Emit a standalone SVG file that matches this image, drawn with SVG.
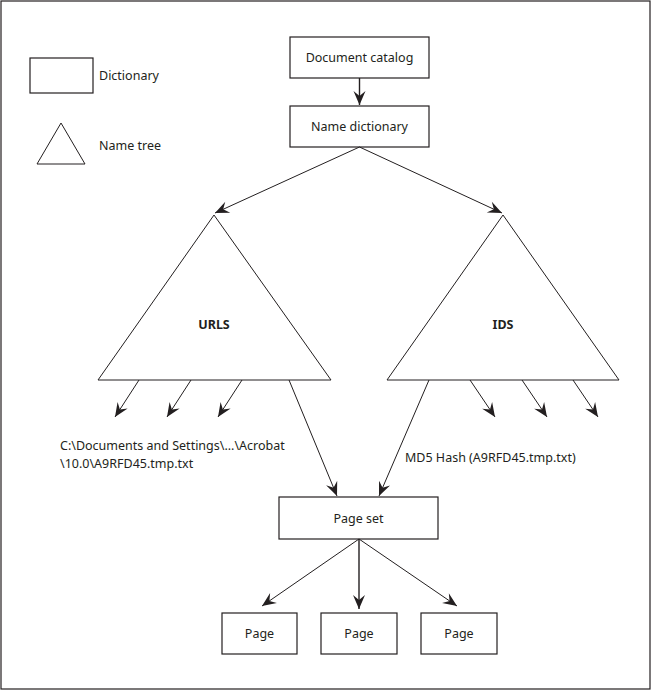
<svg xmlns="http://www.w3.org/2000/svg" width="652" height="691" viewBox="0 0 652 691">
  <style>
    .frame { fill: #ffffff; stroke: #231f20; stroke-width: 1.2; }
    .box { fill: #ffffff; stroke: #231f20; stroke-width: 1.2; }
    .tri { fill: #ffffff; stroke: #231f20; stroke-width: 1; stroke-linejoin: miter; }
    .wire { fill: none; stroke: #231f20; stroke-width: 1; marker-end: url(#barb); }
    .wire-bold { fill: none; stroke: #231f20; stroke-width: 1.4; marker-end: url(#barb); }
    text { font-family: "Noto Sans", "Open Sans", "Liberation Sans", sans-serif; font-size: 12.5px; fill: #231f20; }
    .mid { text-anchor: middle; }
    .bold { font-weight: bold; }
  </style>
  <defs>
    <marker id="barb" markerUnits="userSpaceOnUse" markerWidth="18" markerHeight="16" viewBox="-16 -8 18 16" refX="0" refY="0" orient="auto">
      <path d="M0,0 L-14,-6 L-9,0 L-14,6 Z" fill="#231f20"/>
    </marker>
  </defs>

  <rect class="frame" x="1" y="1" width="649" height="688"/>

  <!-- legend -->
  <g id="legend-dictionary">
    <rect class="box" x="30" y="58" width="63" height="35"/>
    <text x="99" y="80">Dictionary</text>
  </g>
  <g id="legend-name-tree">
    <polygon class="tri" points="61,123 85,164 37,164"/>
    <text x="99" y="150">Name tree</text>
  </g>

  <!-- dictionaries -->
  <g id="document-catalog">
    <rect class="box" x="290" y="37" width="139" height="41"/>
    <text class="mid" x="359.5" y="62">Document catalog</text>
  </g>
  <g id="name-dictionary">
    <rect class="box" x="290" y="106" width="139" height="41"/>
    <text class="mid" x="359.5" y="131">Name dictionary</text>
  </g>

  <!-- name trees -->
  <g id="urls-tree">
    <polygon class="tri" points="214,215 331,380 98,380"/>
    <text class="mid bold" x="214" y="329">URLS</text>
  </g>
  <g id="ids-tree">
    <polygon class="tri" points="503,215 619,380 387,380"/>
    <text class="mid bold" x="503" y="329">IDS</text>
  </g>

  <!-- leaf labels -->
  <g id="urls-key">
    <text x="60" y="450">C:\Documents and Settings\...\Acrobat</text>
    <text x="60" y="468">\10.0\A9RFD45.tmp.txt</text>
  </g>
  <g id="ids-key">
    <text x="405" y="462">MD5 Hash (A9RFD45.tmp.txt)</text>
  </g>

  <!-- page set and pages -->
  <g id="page-set">
    <rect class="box" x="279" y="497" width="159" height="42"/>
    <text class="mid" x="358.5" y="523">Page set</text>
  </g>
  <g id="page-1">
    <rect class="box" x="222" y="613" width="75" height="41"/>
    <text class="mid" x="259.5" y="638">Page</text>
  </g>
  <g id="page-2">
    <rect class="box" x="321" y="613" width="76" height="41"/>
    <text class="mid" x="359" y="638">Page</text>
  </g>
  <g id="page-3">
    <rect class="box" x="421" y="613" width="76" height="41"/>
    <text class="mid" x="459" y="638">Page</text>
  </g>

  <!-- connectors -->
  <g id="connectors">
    <line class="wire-bold" x1="359.5" y1="78" x2="359.5" y2="105"/>
    <line class="wire" x1="359.5" y1="147" x2="215" y2="213"/>
    <line class="wire" x1="359.5" y1="147" x2="502" y2="213"/>

    <line class="wire" x1="139" y1="380" x2="115" y2="417"/>
    <line class="wire" x1="191" y1="380" x2="167" y2="417"/>
    <line class="wire" x1="242" y1="380" x2="218" y2="417"/>
    <line class="wire" x1="289" y1="380" x2="337" y2="496"/>

    <line class="wire" x1="429" y1="380" x2="379" y2="496"/>
    <line class="wire" x1="470" y1="380" x2="495" y2="417"/>
    <line class="wire" x1="522" y1="380" x2="547" y2="417"/>
    <line class="wire" x1="573" y1="380" x2="598" y2="417"/>

    <line class="wire" x1="359" y1="539" x2="262" y2="606"/>
    <line class="wire-bold" x1="359" y1="539" x2="359" y2="609"/>
    <line class="wire" x1="359" y1="539" x2="457" y2="606"/>
  </g>
</svg>
